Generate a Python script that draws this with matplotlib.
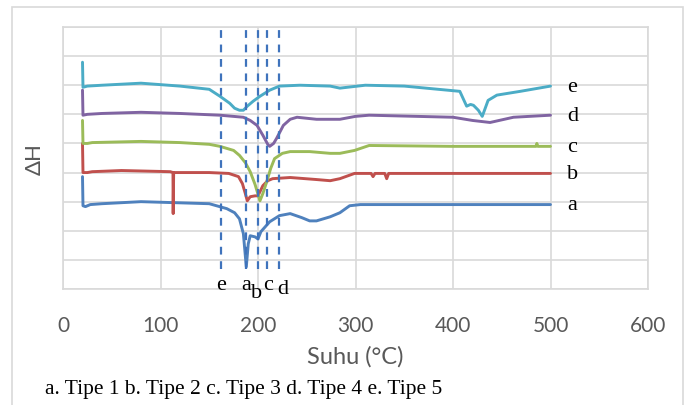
import matplotlib
matplotlib.use("Agg")
import matplotlib.pyplot as plt
from matplotlib.patches import Rectangle

# DSC curves, temperature (°C) vs relative heat flow (arbitrary units)
t_a = [20, 20.5, 23, 28, 40, 80, 110, 150, 168, 176, 181, 185, 188, 190, 192, 197, 200, 203,
       212, 222, 233, 245, 253, 260, 274, 284, 294, 305, 400, 500]
h_a = [3.86, 2.86, 2.83, 2.9, 2.93, 3.0, 2.97, 2.93, 2.76, 2.62, 2.41, 1.9, 0.76, 1.55, 1.83,
       1.79, 1.72, 1.97, 2.31, 2.52, 2.59, 2.45, 2.34, 2.34, 2.48, 2.62, 2.86, 2.9, 2.9, 2.9]

t_b = [20, 20.5, 25, 30, 60, 110, 112.8, 113, 113.5, 150, 170, 180, 184, 187, 189, 192, 197,
       200, 205, 210, 215, 233, 260, 274, 284, 299, 316, 318, 320, 330, 332, 334, 500]
h_b = [5.0, 4.0, 4.0, 4.03, 4.07, 4.03, 4.0, 2.59, 4.0, 4.0, 3.97, 3.86, 3.62, 3.28, 3.03, 3.17,
       3.2, 3.2, 3.55, 3.72, 3.79, 3.83, 3.76, 3.72, 3.79, 3.97, 3.97, 3.86, 3.97, 3.97, 3.79,
       3.97, 3.97]

t_c = [20, 20.5, 25, 30, 80, 120, 150, 161, 175, 181, 187, 192, 197, 202, 205, 209, 213, 217,
       225, 233, 253, 274, 284, 299, 314, 400, 485, 486, 487, 500]
h_c = [5.79, 5.0, 5.0, 5.03, 5.07, 5.03, 4.97, 4.9, 4.76, 4.59, 4.34, 4.03, 3.59, 3.03, 3.28,
       3.69, 4.14, 4.48, 4.66, 4.72, 4.72, 4.66, 4.66, 4.76, 4.93, 4.9, 4.9, 5.0, 4.9, 4.9]

t_d = [20, 20.5, 25, 40, 80, 120, 161, 185, 192, 199, 205, 210, 212, 216, 219, 226, 233, 240,
       260, 284, 300, 314, 400, 420, 438, 462, 500]
h_d = [6.83, 5.97, 6.0, 6.03, 6.07, 6.03, 5.97, 5.9, 5.79, 5.62, 5.28, 4.97, 4.9, 5.0, 5.17,
       5.62, 5.83, 5.9, 5.83, 5.83, 5.93, 5.97, 5.9, 5.79, 5.72, 5.9, 5.97]

t_e = [20, 20.5, 25, 40, 80, 120, 150, 161, 171, 176, 181, 185, 189, 195, 202, 212, 222, 243,
       274, 284, 310, 350, 407, 414, 418, 421, 426, 430, 436, 445, 469, 500]
h_e = [7.79, 6.93, 6.97, 7.0, 7.07, 6.97, 6.86, 6.62, 6.38, 6.21, 6.14, 6.14, 6.28, 6.45, 6.62,
       6.83, 6.97, 7.0, 6.97, 6.9, 7.0, 6.97, 6.79, 6.28, 6.34, 6.31, 6.14, 5.93, 6.48, 6.66,
       6.79, 6.97]

series_labels = ["a", "b", "c", "d", "e"]
colors = ["#4F81BD", "#C0504D", "#9BBB59", "#8064A2", "#4BACC6"]

# peak markers (dashed lines)
peak_t = [162, 188, 200, 209, 221.5]
peak_labels = ["e", "a", "b", "c", "d"]

fig = plt.figure(figsize=(6.86, 4.06), dpi=100)
ax = fig.add_axes([63 / 686, 116 / 406, 585 / 686, 262 / 406])

grid_c = "#D9D9D9"
for t, h, c, s in zip([t_a, t_b, t_c, t_d, t_e], [h_a, h_b, h_c, h_d, h_e], colors, series_labels):
    ax.plot(t, h, color=c, lw=2.1, solid_joinstyle="round", solid_capstyle="round", zorder=3)
    ax.text(517, h[-1], s, family="Liberation Serif", fontsize=16, va="center", ha="left",
            color="black")

for t in peak_t:
    ax.plot([t, t], [0.69, 8.9], color="#3F73BC", lw=1.6, ls=(0, (3.5, 3.0)), zorder=4)

label_y = [0.16, 0.16, -0.12, 0.16, 0.02]
label_x = [162, 188, 198, 210, 225]
for x, y, s in zip(label_x, label_y, peak_labels):
    ax.text(x, y, s, family="Liberation Serif", fontsize=16, ha="center", va="center")

ax.set_xlim(0, 600)
ax.set_ylim(0, 9)
ax.set_xticks(range(0, 601, 100))
ax.set_yticks(range(0, 10))
ax.set_yticklabels([])
ax.tick_params(length=0, labelsize=15, colors="#595959", pad=19)
ax.tick_params(axis="y", pad=0)
for lbl in ax.get_xticklabels():
    lbl.set_family("Lato")
ax.grid(True, color=grid_c, lw=1.2)
ax.set_axisbelow(True)
for sp in ax.spines.values():
    sp.set_color(grid_c)
    sp.set_linewidth(1.2)

ax.set_xlabel("Suhu (°C)", family="Lato", fontsize=17, color="#595959", labelpad=7)
ax.set_ylabel("ΔH", family="Lato", fontsize=16, color="#595959", labelpad=13)

fig.patches.append(Rectangle((12 / 686, -0.01), 671 / 686, 0.99, transform=fig.transFigure,
                             fill=False, edgecolor="#D9D9D9", lw=1.2))
fig.text(45 / 686, 1 - 390 / 406, "a. Tipe 1 b. Tipe 2 c. Tipe 3 d. Tipe 4 e. Tipe 5",
         family="Liberation Serif", fontsize=15.5, va="center", ha="left")

fig.savefig("out.png", dpi=100)
